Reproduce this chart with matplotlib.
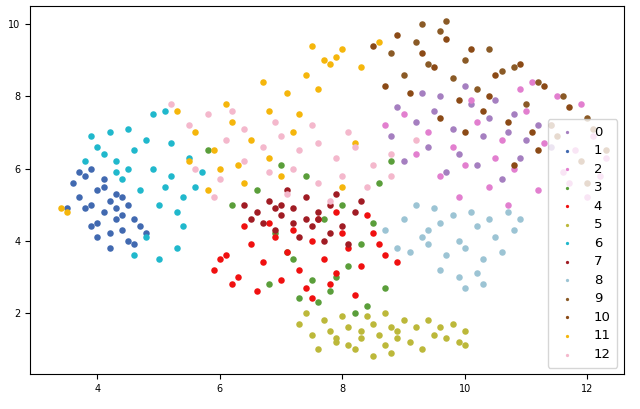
import matplotlib
matplotlib.use("Agg")
import matplotlib.pyplot as plt

# Representative points, per cluster label
c0_x = [8.8, 9.2, 9.5, 9.8, 10.1, 10.4, 10.7, 11.0, 9.0, 9.4, 9.9, 10.3, 10.8, 11.2, 9.6, 10.0, 10.5, 8.9, 9.3, 10.2, 10.9, 11.4, 9.7, 10.6]
c0_y = [6.9, 7.3, 7.6, 7.1, 7.8, 7.4, 7.0, 6.8, 6.2, 6.6, 6.4, 6.9, 7.5, 7.2, 8.0, 8.3, 7.9, 7.7, 8.1, 6.1, 6.3, 6.6, 5.9, 5.7]
c1_x = [3.6, 3.7, 3.8, 3.9, 4.0, 4.1, 4.2, 4.3, 4.4, 4.5, 4.6, 3.8, 4.0, 4.2, 4.4, 3.7, 3.9, 4.1, 4.3, 4.5, 4.7, 4.0, 4.2, 4.6, 3.5, 4.8, 4.1, 4.3, 3.9, 4.4]
c1_y = [5.6, 5.2, 5.8, 5.0, 5.4, 4.8, 5.1, 4.6, 4.3, 4.0, 3.9, 4.9, 4.5, 4.2, 4.7, 5.9, 6.0, 5.5, 5.3, 5.0, 4.4, 4.1, 3.8, 4.6, 4.9, 4.2, 5.7, 4.9, 4.4, 5.2]
c2_x = [9.0, 9.4, 9.8, 10.2, 10.6, 11.0, 11.4, 11.8, 12.1, 12.3, 9.6, 10.0, 10.4, 10.8, 11.2, 11.6, 12.0, 9.2, 10.1, 10.9, 11.5, 11.9, 10.5, 11.3, 8.7, 9.9, 11.7, 12.2, 10.7, 11.1]
c2_y = [7.5, 7.0, 6.6, 7.3, 6.8, 7.6, 7.2, 6.5, 6.9, 6.3, 5.8, 6.1, 5.5, 6.0, 5.4, 5.9, 5.2, 6.4, 7.9, 8.2, 8.0, 7.8, 6.3, 6.7, 7.2, 5.2, 5.6, 5.8, 5.0, 8.4]
c3_x = [6.6, 6.9, 7.2, 7.5, 7.8, 8.1, 8.4, 8.7, 7.0, 7.4, 7.7, 8.0, 8.3, 7.6, 7.9, 8.2, 8.6, 6.8, 7.3, 8.5, 5.8, 6.2, 8.8, 7.1]
c3_y = [5.4, 4.2, 3.5, 2.9, 2.6, 3.3, 2.2, 2.7, 6.1, 5.8, 4.6, 5.0, 3.9, 2.3, 3.0, 2.0, 5.6, 2.8, 2.4, 4.5, 6.5, 5.0, 6.2, 3.7]
c4_x = [5.9, 6.1, 6.3, 6.5, 6.7, 6.9, 7.1, 7.3, 7.5, 7.7, 7.9, 8.1, 8.3, 8.5, 8.7, 6.2, 6.6, 7.0, 7.4, 7.8, 8.2, 8.6, 6.4, 6.8, 7.2, 7.6, 8.0, 8.4, 8.9, 6.0, 7.5, 7.9]
c4_y = [3.2, 3.6, 3.0, 3.9, 3.4, 4.1, 3.7, 3.2, 4.0, 3.5, 3.1, 3.8, 3.3, 4.2, 3.6, 2.8, 2.6, 2.9, 2.7, 2.8, 2.5, 3.9, 4.4, 4.5, 4.3, 4.6, 4.2, 4.7, 3.4, 3.5, 2.4, 4.8]
c5_x = [7.3, 7.5, 7.7, 7.9, 8.1, 8.3, 8.5, 8.7, 8.9, 9.1, 9.3, 9.5, 9.7, 9.9, 10.0, 7.6, 7.8, 8.0, 8.2, 8.4, 8.6, 8.8, 9.0, 9.2, 9.4, 8.1, 8.5, 8.9, 9.6, 7.4, 8.3, 8.7, 9.8, 10.0, 7.9, 8.8]
c5_y = [1.7, 1.4, 1.8, 1.2, 1.6, 1.3, 1.7, 1.1, 1.5, 1.2, 1.0, 1.4, 1.3, 1.2, 1.5, 1.0, 1.5, 1.9, 1.0, 1.9, 1.4, 0.9, 1.8, 1.6, 1.8, 1.1, 0.8, 1.3, 1.6, 2.0, 1.5, 2.0, 1.7, 1.1, 1.3, 1.6]
c6_x = [4.0, 4.3, 4.6, 4.9, 5.2, 5.5, 4.2, 4.5, 4.8, 5.1, 5.4, 5.7, 4.4, 4.7, 5.0, 5.3, 3.9, 4.1, 4.6, 5.0, 5.3, 4.8, 5.2, 4.5, 5.6, 4.3, 4.9, 5.1, 3.8, 5.4]
c6_y = [6.6, 6.2, 6.5, 6.0, 5.8, 6.3, 7.0, 7.1, 6.8, 5.5, 5.2, 5.9, 5.7, 5.4, 5.0, 4.8, 6.9, 6.4, 3.6, 3.5, 3.8, 4.1, 6.7, 6.0, 5.5, 5.9, 7.5, 7.6, 6.2, 4.4]
c7_x = [6.4, 6.6, 6.8, 7.0, 7.2, 7.4, 7.6, 7.8, 8.0, 8.2, 6.7, 6.9, 7.1, 7.3, 7.5, 7.7, 7.9, 6.5, 7.0, 7.4, 7.8, 8.3, 6.9, 7.2, 7.6, 8.1]
c7_y = [5.0, 4.8, 5.1, 4.7, 4.9, 5.2, 4.6, 5.0, 4.4, 4.8, 4.5, 4.3, 5.4, 4.1, 4.4, 4.0, 5.3, 4.6, 5.0, 4.6, 4.2, 5.1, 4.9, 4.5, 4.8, 3.9]
c8_x = [8.7, 9.0, 9.3, 9.6, 9.9, 10.2, 10.5, 10.8, 9.1, 9.4, 9.7, 10.0, 10.3, 10.6, 9.2, 9.5, 9.8, 10.1, 10.4, 10.7, 9.6, 9.9, 10.2, 8.9, 10.9, 10.0, 10.3, 9.4]
c8_y = [4.3, 4.6, 4.1, 4.5, 4.0, 4.4, 4.1, 4.3, 3.7, 3.9, 3.6, 3.8, 3.5, 3.7, 5.0, 4.9, 4.7, 4.8, 4.6, 4.8, 3.2, 3.0, 3.1, 3.8, 4.6, 2.7, 2.8, 4.3]
c9_x = [8.8, 9.2, 9.6, 10.0, 10.4, 10.8, 11.2, 11.6, 12.0, 9.0, 9.4, 9.8, 10.2, 10.6, 11.0, 11.4, 9.3, 9.7]
c9_y = [9.2, 9.5, 9.8, 9.0, 9.3, 8.8, 8.4, 8.0, 7.4, 8.6, 8.9, 8.5, 8.2, 8.7, 7.8, 7.2, 10.0, 10.1]
c10_x = [8.5, 8.9, 9.3, 9.7, 10.1, 10.5, 10.9, 11.3, 11.7, 12.1, 12.3, 9.1, 9.5, 9.9, 10.3, 10.7, 11.1, 11.5, 11.9, 8.7, 9.6, 10.4, 11.2, 12.0, 10.0, 10.8]
c10_y = [9.4, 9.7, 9.2, 9.6, 9.3, 8.6, 8.9, 8.3, 7.7, 7.1, 6.5, 8.1, 8.8, 7.9, 7.6, 7.3, 7.0, 6.9, 6.2, 8.3, 7.4, 8.0, 6.5, 5.6, 7.0, 6.1]
c11_x = [5.3, 5.6, 5.9, 6.2, 6.5, 6.8, 7.1, 7.4, 7.7, 8.0, 8.3, 6.0, 6.4, 6.8, 7.2, 7.6, 7.9, 5.5, 6.1, 6.7, 7.3, 7.5, 7.8, 3.4, 3.5, 8.6, 6.3, 5.8, 7.0, 8.2, 8.0]
c11_y = [7.6, 7.0, 6.5, 7.3, 6.8, 7.6, 8.1, 8.6, 9.0, 9.3, 8.8, 6.0, 5.6, 6.3, 7.0, 8.2, 9.1, 6.2, 7.8, 8.4, 7.5, 9.4, 8.9, 4.9, 4.8, 9.5, 6.1, 5.4, 5.8, 6.7, 5.5]
c12_x = [5.2, 5.5, 5.8, 6.1, 6.4, 6.7, 7.0, 7.3, 7.6, 7.9, 8.2, 8.5, 8.8, 5.6, 6.0, 6.4, 6.8, 7.2, 7.6, 8.0, 8.4, 8.8, 6.2, 6.9, 7.5, 8.1, 5.9, 7.1, 7.8, 9.2]
c12_y = [7.8, 7.2, 7.5, 6.8, 7.1, 6.6, 6.9, 6.5, 6.7, 6.3, 6.6, 6.1, 6.4, 6.0, 5.7, 6.2, 5.9, 6.0, 5.6, 5.8, 5.5, 5.8, 7.6, 7.3, 7.2, 7.0, 5.2, 5.3, 5.1, 6.8]

xs = [c0_x, c1_x, c2_x, c3_x, c4_x, c5_x, c6_x, c7_x, c8_x, c9_x, c10_x, c11_x, c12_x]
ys = [c0_y, c1_y, c2_y, c3_y, c4_y, c5_y, c6_y, c7_y, c8_y, c9_y, c10_y, c11_y, c12_y]
labels = [str(i) for i in range(13)]
colors = ["#a57fc0", "#4169b0", "#e27fcf", "#5a9e3a", "#f01010", "#bcb83a", "#20b8cc",
          "#a01c24", "#9cc4d4", "#8a5a26", "#8b4a16", "#f5b60c", "#f4b8cc"]

fig, ax = plt.subplots(figsize=(6.4, 4.09), dpi=100)
fig.subplots_adjust(left=0.047, right=0.975, bottom=0.085, top=0.985)
for x, y, lab, c in zip(xs, ys, labels, colors):
    ax.scatter(x, y, s=22, color=c, label=lab, linewidths=0)
ax.set_xlim(2.9, 12.6)
ax.set_ylim(0.3, 10.5)
ax.set_xticks([4, 6, 8, 10, 12])
ax.set_yticks([2, 4, 6, 8, 10])
ax.tick_params(labelsize=7)
ax.legend(loc="lower right", fontsize=9.5, markerscale=0.5, handletextpad=1.0,
          borderpad=0.5, labelspacing=0.42)
fig.savefig("out.png")
